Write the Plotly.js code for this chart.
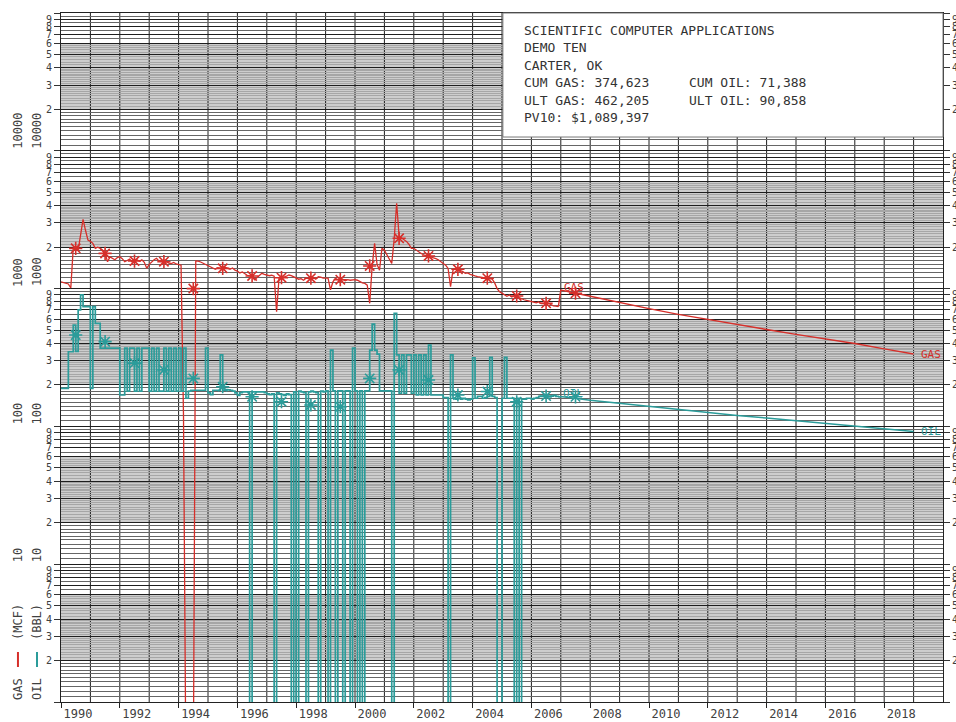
<!DOCTYPE html>
<html><head><meta charset="utf-8">
<script src="https://cdn.plot.ly/plotly-3.0.1.min.js"></script>
<style>html,body{margin:0;padding:0;background:#fff}#chart{width:956px;height:722px}</style>
</head><body><div id="chart"></div>
<script>
// ---------- DATA ----------
const startYear = 1990;           // first production month = Jan 1990, monthly values
const gasMonthly = [               // MCF per month (0 = no production)
  1120,1110,1100,1080,1010,1970,1950,1900,2450,3180,2650,2250, // 1990
  2200,2130,1960,2000,1960,1900,1800,1567,1700,1660,1620,1680, // 1991
  1706,1650,1567,1600,1640,1560,1585,1620,1580,1620,1550,1403, // 1992
  1500,1567,1620,1660,1580,1600,1540,1570,1530,1520,1550,1510, // 1993
  1500,1480,120,0,0,0,0,1590,1585,1560,1530,1500,              // 1994
  1470,1440,1410,1380,1420,1400,1390,1430,1400,1380,1410,1360, // 1995
  1340,1300,1320,1275,1250,1235,1220,1160,1200,1260,1290,1270, // 1996
  1260,1240,1250,1230,680,1200,1220,1210,1230,1255,1240,1220,  // 1997
  1200,1170,1180,1150,1190,1180,1190,1200,1170,1220,1210,1190, // 1998
  1190,1190,980,1120,1190,1160,1150,1170,1140,1160,1150,1160,  // 1999
  1160,1150,1120,1100,1090,1060,782,1450,2130,1500,1360,1960,  // 2000
  1900,1750,1650,1520,2300,4160,2400,2330,2260,2200,2100,1960, // 2001
  1960,1900,1850,1800,1760,1740,1725,1700,1680,1650,1620,1560, // 2002
  1520,1480,1400,1033,1360,1400,1380,1360,1330,1290,1300,1270, // 2003
  1260,1235,1220,1210,1200,1190,1190,1180,1170,1100,1000,950,  // 2004
  930,900,880,900,870,890,884,860,840,830,820,810,             // 2005
  810,800,790,800,780,782,770,780,760,750,745,740              // 2006
];
const oilMonthly = [               // BBL per month (0 = no production)
  189,189,189,348,348,544,350,700,900,740,740,740,  // 1990
  189,740,560,560,370,370,370,370,370,370,370,370,  // 1991
  169,169,370,180,370,370,180,370,180,370,370,370,  // 1992
  180,370,180,370,180,180,370,180,370,180,370,180,  // 1993
  370,180,370,160,180,183,183,183,183,183,183,370,  // 1994
  175,170,183,183,183,330,183,185,184,183,180,175,  // 1995
  168,176,178,178,178,0,178,178,178,178,178,176,    // 1996
  172,170,172,0,175,172,170,168,172,170,0,178,      // 1997
  0,180,178,176,0,178,180,178,176,0,180,178,        // 1998
  181,0,358,181,0,181,181,0,181,181,0,370,          // 1999
  181,0,181,0,181,181,358,553,358,335,181,181,      // 2000
  181,181,181,0,660,330,174,330,174,330,330,174,    // 2001
  330,169,330,169,330,169,389,169,169,169,169,169,  // 2002
  162,162,0,330,160,158,160,158,160,158,156,158,    // 2003
  315,160,165,165,160,162,165,317,165,162,0,0,      // 2004
  160,317,160,160,160,0,160,0,158,158,160,160,      // 2005
  158,160,162,165,165,168,166,164,166,168,165,163   // 2006
];
const forecastYears = [2007,2008,2009,2010,2011,2012,2013,2014,2015,2016,2017,2018,2019];
const gasForecast   = [975,880,790,715,650,595,545,505,465,430,400,365,335];
const oilForecast   = [165,155,147,140,133,126,120,115,110,105,100,96,92];
const markerYears = [1990.5,1991.5,1992.5,1993.5,1994.5,1995.5,1996.5,1997.5,1998.5,
                     1999.5,2000.5,2001.5,2002.5,2003.5,2004.5,2005.5,2006.5,2007.5];
const gasYearly = [1960,1800,1585,1567,1000,1403,1235,1200,1190,1160,1460,2318,1725,1380,1190,884,782,925];
const oilYearly = [460,412,288,257,223,194,164,151,143,139,223,257,217,169,179,151,166,164];
const yearTicks = [1990,1992,1994,1996,1998,2000,2002,2004,2006,2008,2010,2012,2014,2016,2018];
const yearLabels = ['1990','1992','1994','1996','1998','2000','2002','2004','2006','2008','2010','2012','2014','2016','2018'];
const decades = [1,10,100,1000,10000];
const decadeLabels = ['10','100','1000','10000'];
const cycleDigits = [1,2,3,4,5,6,7,8,9];
const darkSubdiv = [1.1,1.2,1.3,1.4,1.5,1.6,1.7,1.8,1.9,6.5,7.5,8.5,9.5];
const graySubdiv = [2.1,2.2,2.3,2.4,2.5,2.6,2.7,2.8,2.9,3.1,3.2,3.3,3.4,3.5,3.6,3.7,3.8,3.9,
                    4.2,4.4,4.6,4.8,5.2,5.4,5.6,5.8];
const shadedBand = [2, 6];        // shaded part of every log cycle
const infoCol1 = ['SCIENTIFIC COMPUTER APPLICATIONS','DEMO TEN','CARTER, OK','CUM GAS: 374,623','ULT GAS: 462,205','PV10: $1,089,397'];
const infoCol2 = ['','','','CUM OIL: 71,388','ULT OIL: 90,858',''];
const seriesNames = ['GAS','OIL'];
const unitNames = ['(MCF)','(BBL)'];

// ---------- STYLE ----------
const MONO = '"DejaVu Sans Mono", "Liberation Mono", monospace';
const GAS_C = '#d62f2a';
const OIL_C = '#2b9c9a';
const TXT_C = '#404040';
const FLOOR = 0.3; // zero months are drawn below the axis floor (log scale)

// ---------- BUILD ----------
const monthX = arr => arr.map((_, i) => startYear + i / 12);
const floorZero = arr => arr.map(v => v > 0 ? v : FLOOR);

const majorVals = [], majorText = [];
decades.forEach(d => cycleDigits.forEach(k => { majorVals.push(k * d); majorText.push(k === 1 ? '' : String(k)); }));
majorVals.push(100000); majorText.push('');
const darkMinor = [], grayMinor = [];
decades.forEach(d => {
  darkSubdiv.forEach(s => darkMinor.push(+(s * d).toPrecision(6)));
  graySubdiv.forEach(s => grayMinor.push(+(s * d).toPrecision(6)));
});

const gasX = monthX(gasMonthly), oilX = monthX(oilMonthly);
const lastG = gasMonthly.length - 1, lastO = oilMonthly.length - 1;

const traces = [
  {x: gasX, y: floorZero(gasMonthly), mode:'lines', line:{color:GAS_C, width:1.3}, yaxis:'y', hoverinfo:'skip'},
  {x: [gasX[lastG]].concat(forecastYears), y: [gasMonthly[lastG]].concat(gasForecast), mode:'lines', line:{color:GAS_C, width:1.4}, yaxis:'y', hoverinfo:'skip'},
  {x: markerYears, y: gasYearly, mode:'markers', marker:{symbol:'asterisk-open', size:11, color:GAS_C, line:{color:GAS_C, width:1.6}}, yaxis:'y', hoverinfo:'skip'},
  {x: oilX, y: floorZero(oilMonthly), mode:'lines', line:{color:OIL_C, width:1.7, shape:'hv'}, yaxis:'y2', hoverinfo:'skip'},
  {x: [oilX[lastO]].concat(forecastYears), y: [oilMonthly[lastO]].concat(oilForecast), mode:'lines', line:{color:OIL_C, width:1.5}, yaxis:'y2', hoverinfo:'skip'},
  {x: markerYears, y: oilYearly, mode:'markers', marker:{symbol:'asterisk-open', size:11, color:OIL_C, line:{color:OIL_C, width:1.6}}, yaxis:'y2', hoverinfo:'skip'}
];

const shapes = [];
// shaded band of each log cycle (drawn under the grid)
decades.forEach(d => shapes.push({type:'rect', xref:'paper', yref:'y', x0:0, x1:1,
  y0:shadedBand[0] * d, y1:shadedBand[1] * d, layer:'below',
  fillcolor:'#cdcdcd', line:{width:0}}));
for (let yr = 1991; yr < 2020; yr++) {
  shapes.push({type:'line', xref:'x', yref:'paper', x0:yr, x1:yr, y0:0, y1:1, layer:'between', line:{color:'#1e1e1e', width:1}});
}
// info box
shapes.push({type:'rect', xref:'paper', yref:'paper', x0:0.501, x1:1, y0:0.820, y1:1, layer:'above', fillcolor:'#ffffff', line:{color:'#777', width:1}});
// legend bars
const legX = [-0.0488, -0.0272];
[GAS_C, OIL_C].forEach((c, i) => shapes.push({type:'line', xref:'paper', yref:'paper', x0:legX[i], x1:legX[i], y0:0.0508, y1:0.0726, line:{color:c, width:2}}));

const annotations = [];
decadeLabels.forEach(lbl => {
  legX.forEach(px => annotations.push({xref:'paper', yref:'y', x:px, y:Math.log10(+lbl), text:lbl, textangle:-90,
    xanchor:'center', yanchor:'bottom', showarrow:false, font:{family:MONO, size:12, color:TXT_C}}));
});
seriesNames.forEach((n, i) => {
  annotations.push({xref:'paper', yref:'paper', x:legX[i], y:0, text:n, textangle:-90, xanchor:'center', yanchor:'bottom', showarrow:false, font:{family:MONO, size:12, color:TXT_C}});
  annotations.push({xref:'paper', yref:'paper', x:legX[i], y:0.087, text:unitNames[i], textangle:-90, xanchor:'center', yanchor:'bottom', showarrow:false, font:{family:MONO, size:12, color:TXT_C}});
});
// info text
const infoTop = 0.9753, infoStep = 0.0254;
infoCol1.forEach((t, i) => { if (t) annotations.push({xref:'paper', yref:'paper', x:0.5227, y:infoTop - i*infoStep, text:t, xanchor:'left', yanchor:'middle', showarrow:false, font:{family:MONO, size:13, color:'#333'}}); });
infoCol2.forEach((t, i) => { if (t) annotations.push({xref:'paper', yref:'paper', x:0.7098, y:infoTop - i*infoStep, text:t, xanchor:'left', yanchor:'middle', showarrow:false, font:{family:MONO, size:13, color:'#333'}}); });
// series labels at end of history and end of forecast
const fcLast = forecastYears.length - 1;
annotations.push({xref:'x', yref:'y', x:forecastYears[0] + 0.45, y:Math.log10(gasForecast[0]) + 0.02, text:'GAS', showarrow:false, font:{family:MONO, size:11, color:GAS_C}});
annotations.push({xref:'x', yref:'y2', x:forecastYears[0] + 0.4, y:Math.log10(oilForecast[0]) + 0.02, text:'OIL', showarrow:false, font:{family:MONO, size:11, color:OIL_C}});
annotations.push({xref:'x', yref:'y', x:forecastYears[fcLast] + 0.2, y:Math.log10(gasForecast[fcLast]), text:'GAS', xanchor:'left', showarrow:false, font:{family:MONO, size:11, color:GAS_C}});
annotations.push({xref:'x', yref:'y2', x:forecastYears[fcLast] + 0.2, y:Math.log10(oilForecast[fcLast]), text:'OIL', xanchor:'left', showarrow:false, font:{family:MONO, size:11, color:OIL_C}});

const layout = {
  width:956, height:722,
  margin:{l:61, r:13, t:13, b:20, pad:0},
  paper_bgcolor:'#ffffff', plot_bgcolor:'#ffffff',
  showlegend:false,
  font:{family:MONO, size:11, color:TXT_C},
  xaxis:{range:[1990,2020], tickmode:'array', tickvals:yearTicks, ticktext:yearLabels,
    ticks:'outside', ticklen:5, tickcolor:'#222', tickwidth:1, ticklabelshift:17, ticklabelstandoff:-4,
    tickfont:{family:MONO, size:12, color:TXT_C},
    showgrid:false, zeroline:false, showline:true, linecolor:'#222', linewidth:1, mirror:true},
  yaxis:{type:'log', range:[0,5], tickmode:'array', tickvals:majorVals, ticktext:majorText,
    ticks:'outside', ticklen:6, tickcolor:'#333', tickfont:{family:MONO, size:10, color:TXT_C},
    showgrid:true, gridcolor:'#1e1e1e', gridwidth:1,
    minor:{tickmode:'array', tickvals:darkMinor, showgrid:true, gridcolor:'#666666', gridwidth:1, ticks:''},
    showline:true, linecolor:'#222', linewidth:1, mirror:true, zeroline:false},
  yaxis2:{type:'log', range:[0,5], overlaying:'y', side:'right', tickmode:'array', tickvals:majorVals, ticktext:majorText,
    ticks:'outside', ticklen:6, tickcolor:'#333', tickfont:{family:MONO, size:10, color:TXT_C},
    showgrid:false,
    minor:{tickmode:'array', tickvals:grayMinor, showgrid:true, gridcolor:'#a6a6a6', gridwidth:1, ticks:''},
    showline:false, zeroline:false},
  shapes:shapes,
  annotations:annotations
};

Plotly.newPlot('chart', traces, layout, {displayModeBar:false, staticPlot:true});
</script>
</body></html>
